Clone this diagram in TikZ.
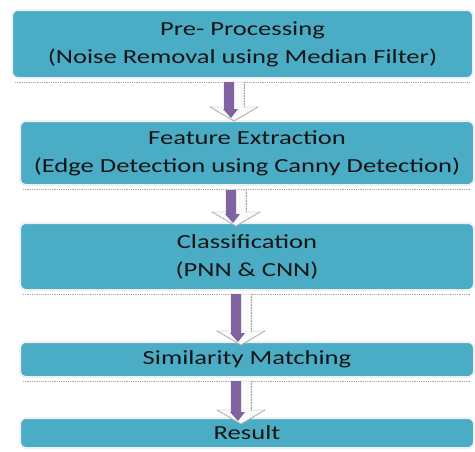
\documentclass[tikz,border=0pt]{standalone}
\usepackage{fontspec}
\setmainfont{Carlito}[FakeStretch=1.33]
\usetikzlibrary{calc}
\definecolor{boxc}{HTML}{4BACC6}
\definecolor{arrc}{HTML}{8064A2}
\definecolor{txtc}{HTML}{151515}
\tikzset{
  stepbox/.style={rounded corners=6pt, fill=boxc, draw=gray!12, line width=2pt,
    text=txtc, align=center, inner sep=0pt, font=\fontsize{20}{28}\selectfont},
  shadowline/.style={draw=gray!70, densely dotted, line width=0.8pt},
  outerarr/.style={fill=gray!4, draw=gray!30, line width=0.6pt, line join=miter},
  arredge/.style={draw=gray!75, dash pattern=on 1pt off 0.6pt, line width=0.8pt},
  innerarr/.style={fill=arrc, draw=none},
}
\newcommand\blockarr[2]{%
  \filldraw[outerarr] ($(#1)+(-10,0)$) -- ($(#1)+(10,0)$) -- ($(#2)+(10,-14)$) -- ($(#2)+(24,-14)$) -- (#2) -- ($(#2)+(-24,-14)$) -- ($(#2)+(-10,-14)$) -- cycle;
  \draw[arredge] ($(#1)+(10,0)$) -- ($(#2)+(10,-14)$);
  \draw[arredge] ($(#2)+(-24,-14)$) -- (#2) -- ($(#2)+(24,-14)$);
  \fill[innerarr] ($(#1)+(-10,0)$) -- ($(#1)+(0,0)$) -- ($(#2)+(0,-12)$) -- ($(#2)+(4,-12)$) -- ($(#2)+(-3,-3)$) -- ($(#2)+(-11,-12)$) -- ($(#2)+(-10,-12)$) -- cycle;
}
\begin{document}
\begin{tikzpicture}[x=1pt,y=-1pt]
\useasboundingbox (0,0) rectangle (475,451);
\node[stepbox, minimum width=461pt, minimum height=68pt] (b1) at (242.5,44) {Pre- Processing\\(Noise Removal using Median Filter)};
\node[stepbox, minimum width=454pt, minimum height=64pt] (b2) at (247,153) {Feature Extraction\\(Edge Detection using Canny Detection)};
\node[stepbox, minimum width=454pt, minimum height=67pt] (b3) at (247,256.5) {Classification\\(PNN \& CNN)};
\node[stepbox, minimum width=454pt, minimum height=35pt] (b4) at (247,359.5) {Similarity Matching};
\node[stepbox, minimum width=454pt, minimum height=30pt] (b5) at (247,433) {\raisebox{-4pt}{Result}};
\foreach \b in {b1,b2,b3,b4}{
  \draw[shadowline] ($(\b.south west)+(4,3)$) -- ($(\b.south east)+(-4,3)$);
}
\coordinate (a1s) at (234,82);  \coordinate (a1e) at (234,121);
\coordinate (a2s) at (236,190); \coordinate (a2e) at (236,226);
\coordinate (a3s) at (241,294); \coordinate (a3e) at (241,345);
\coordinate (a4s) at (241,381); \coordinate (a4e) at (241,424);
\blockarr{a1s}{a1e}
\blockarr{a2s}{a2e}
\blockarr{a3s}{a3e}
\blockarr{a4s}{a4e}
\end{tikzpicture}
\end{document}
